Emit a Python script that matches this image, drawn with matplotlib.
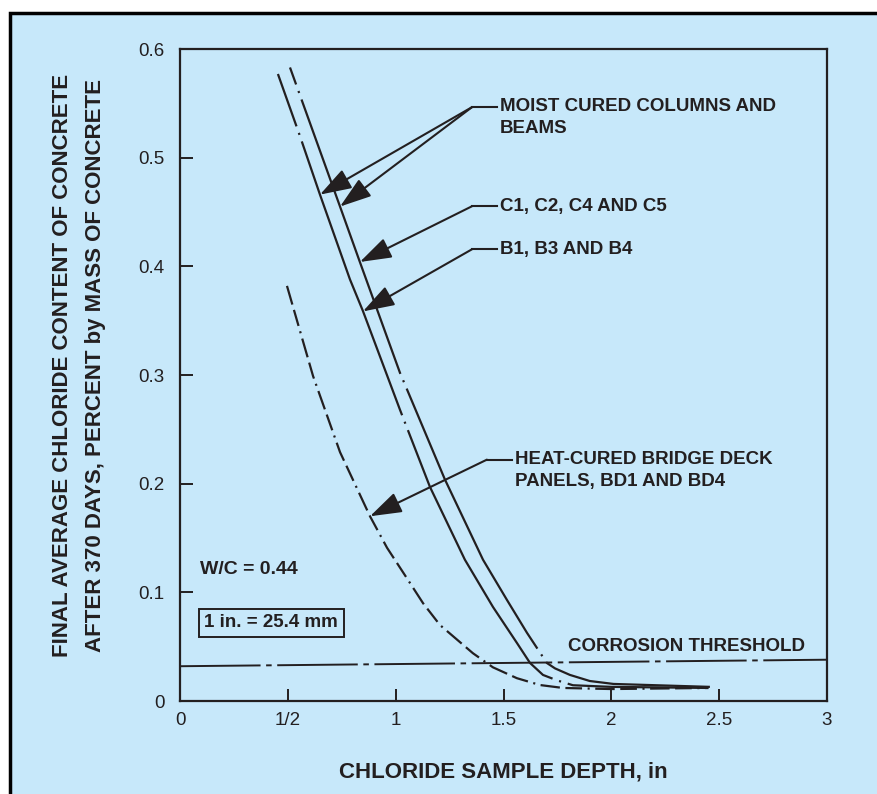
import matplotlib
matplotlib.use('Agg')
import matplotlib.pyplot as plt
from matplotlib.patches import Rectangle

# data (depth in inches, chloride % by mass)
b_depth = [0.454, 0.556, 0.649, 0.788, 0.848, 1.02, 1.159, 1.321, 1.451, 1.562, 1.623,
           1.683, 1.748, 1.822, 2.0, 2.45]
b_cl = [0.577, 0.520, 0.466, 0.388, 0.359, 0.268, 0.197, 0.130, 0.0866, 0.0535, 0.035,
        0.024, 0.019, 0.0145, 0.013, 0.012]

c_depth = [0.51, 0.742, 0.834, 1.02, 1.052, 1.228, 1.405, 1.516, 1.609, 1.701, 1.739,
           1.808, 1.90, 2.01, 2.457]
c_cl = [0.583, 0.455, 0.404, 0.302, 0.287, 0.204, 0.130, 0.093, 0.0627, 0.035, 0.030,
        0.024, 0.0184, 0.0157, 0.013]

bd_depth = [0.496, 0.617, 0.742, 0.881, 0.96, 1.052, 1.127, 1.205, 1.358, 1.451, 1.562,
            1.669, 1.776, 2.0, 2.45]
bd_cl = [0.382, 0.299, 0.229, 0.170, 0.141, 0.113, 0.090, 0.070, 0.044, 0.031, 0.021,
         0.0147, 0.012, 0.011, 0.012]

thresh_depth = [0, 3]
thresh_cl = [0.032, 0.038]

xticks = [0, 0.5, 1, 1.5, 2, 2.5, 3]
xtick_labels = ['0', '1/2', '1', '1.5', '2', '2.5', '3']
yticks = [0, 0.1, 0.2, 0.3, 0.4, 0.5, 0.6]

ink = '#231f20'
blue = '#c7e8fa'
plt.rcParams['font.family'] = ['Liberation Sans Narrow', 'Liberation Sans', 'DejaVu Sans']
plt.rcParams['lines.scale_dashes'] = False

fig = plt.figure(figsize=(8.77, 7.94), dpi=100)
fig.patch.set_facecolor('white')
fig.patches.append(Rectangle((10 / 877, -0.1), 1.2, 1.1 - 13 / 794,
                             transform=fig.transFigure, facecolor=blue,
                             edgecolor='black', lw=2.5, zorder=-5))

ax = fig.add_axes([180 / 877, 93 / 794, 647 / 877, 652 / 794])
ax.set_facecolor(blue)
ax.set_xlim(0, 3)
ax.set_ylim(0, 0.6)

ax.plot(b_depth, b_cl, color=ink, lw=1.6, linestyle=(170, (210, 5, 1.5, 5)))
ax.plot(c_depth, c_cl, color=ink, lw=1.6, linestyle=(197, (210, 5, 1.5, 5)))
ax.plot(bd_depth, bd_cl, color=ink, lw=1.6, linestyle=(0, (14, 4, 12, 4, 1.5, 4)))
ax.plot(thresh_depth, thresh_cl, color=ink, lw=1.4, linestyle=(0, (58, 4, 4, 4)))

ax.set_xticks(xticks)
ax.set_xticklabels(xtick_labels)
ax.set_yticks(yticks)
ax.set_yticklabels(['0', '0.1', '0.2', '0.3', '0.4', '0.5', '0.6'])
ax.tick_params(direction='in', length=9, width=1.4, labelsize=13.5, colors=ink)
ax.tick_params(axis='x', pad=8)
ax.tick_params(axis='y', pad=11)
for s in ax.spines.values():
    s.set_linewidth(1.6)
    s.set_color(ink)

ax.set_xlabel('CHLORIDE SAMPLE DEPTH, in', fontsize=16, fontweight='bold',
              color=ink, labelpad=23)
fig.text(79 / 877, 1 - 365 / 794,
         'FINAL AVERAGE CHLORIDE CONTENT OF CONCRETE\nAFTER 370 DAYS, PERCENT by MASS OF CONCRETE',
         rotation=90, ha='center', va='center', multialignment='center',
         fontsize=16, fontweight='bold', color=ink, linespacing=1.7)

arrow = dict(arrowstyle='-|>,head_length=0.75,head_width=0.25', color=ink, lw=1.5,
             mutation_scale=26, shrinkA=0, shrinkB=0)

def callout(tips, jx, jy, lx, tx, text):
    for (px, py) in tips:
        ax.annotate('', xy=(px, py), xytext=(jx, jy), arrowprops=arrow)
    ax.plot([jx, lx], [jy, jy], color=ink, lw=1.5)
    if '\n' in text:
        ax.text(tx, jy + 0.008, text, ha='left', va='top',
                fontsize=13.5, fontweight='bold', color=ink, linespacing=1.35)
    else:
        ax.text(tx, jy, text, ha='left', va='center',
                fontsize=13.5, fontweight='bold', color=ink)

callout([(0.649, 0.466), (0.742, 0.455)], 1.354, 0.5465, 1.47, 1.484,
        'MOIST CURED COLUMNS AND\nBEAMS')
callout([(0.834, 0.404)], 1.354, 0.4553, 1.47, 1.484, 'C1, C2, C4 AND C5')
callout([(0.848, 0.3585)], 1.354, 0.4157, 1.47, 1.484, 'B1, B3 AND B4')
callout([(0.881, 0.170)], 1.423, 0.2221, 1.539, 1.553,
        'HEAT-CURED BRIDGE DECK\nPANELS, BD1 AND BD4')

ax.text(0.093, 0.121, 'W/C = 0.44', fontsize=14, fontweight='bold', color=ink,
        va='center')
ax.text(0.422, 0.072, '1 in. = 25.4 mm', fontsize=13.5, fontweight='bold', color=ink,
        ha='center', va='center',
        bbox=dict(boxstyle='square,pad=0.3', facecolor=blue, edgecolor=ink, lw=1.4))
ax.text(1.799, 0.0498, 'CORROSION THRESHOLD', fontsize=13.5, fontweight='bold',
        color=ink, va='center')

fig.savefig('out.png', dpi=100)
